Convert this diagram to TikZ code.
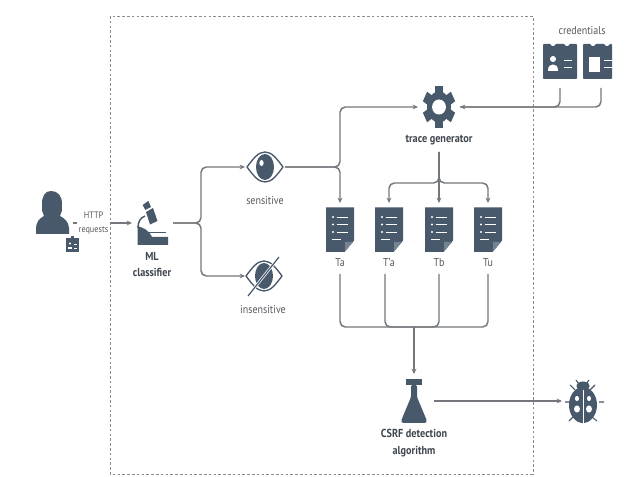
\documentclass[tikz,border=0pt]{standalone}
\usepackage{fontspec}
\setmainfont[FakeStretch=0.88]{PT Sans}
\usetikzlibrary{arrows.meta}
\definecolor{icon}{HTML}{47596B}
\definecolor{wire}{HTML}{74787C}
\definecolor{txt}{HTML}{55595E}
\definecolor{boldtxt}{HTML}{3F464E}
\tikzset{
  x=0.75pt,y=-0.75pt,
  ibox/.style={minimum width=#1,inner sep=0pt,outer sep=0pt,draw=none},
  lab/.style={text=txt,font=\fontsize{8.5}{9}\selectfont,inner sep=0pt,align=center},
  blab/.style={text=boldtxt,font=\fontsize{8.7}{12.5}\selectfont\bfseries,inner sep=0pt,align=center},
  wirel/.style={draw=wire,line width=1.1pt,rounded corners=4pt},
  arr/.style={wirel,-{Stealth[length=4pt,width=3.6pt]}},
  frame/.style={draw=wire!85,line width=0.7pt,dash pattern=on 2pt off 1.6pt},
  wht/.style={draw=white,line width=0.7pt},
}
\newcommand{\docicon}[1]{\begin{scope}[shift={(#1)}]
  \fill[icon] (0,0)--(28,0)--(28,33)--(18.5,44.5)--(0,44.5)--cycle;
  \fill[icon!75!white] (19,34.5)--(27,34.5)--(19,44)--cycle;
  \foreach \yy in {9.5,17,24.5}{\fill[white] (7,\yy) circle[radius=1.1];\draw[wht] (10.5,\yy)--(22,\yy);}
  \draw[wht] (6,31.5)--(14.5,31.5);
\end{scope}}
\newcommand{\eyeicon}[1]{\begin{scope}[shift={(#1)}]
  \draw[icon,line width=1pt,line join=round] (-18,0) .. controls (-12,-8) and (-7,-15) .. (0,-15) .. controls (7,-15) and (12,-8) .. (18,0) .. controls (12,8) and (7,15) .. (0,15) .. controls (-7,15) and (-12,8) .. (-18,0) -- cycle;
  \fill[icon] (0,0) ellipse[x radius=9,y radius=13];
\end{scope}}
\begin{document}
\begin{tikzpicture}
\useasboundingbox (0,0) rectangle (626,477);
\fill[white] (0,0) rectangle (626,477);
\draw[frame] (110,16) rectangle (533,474);

% icon anchors
\node[ibox=28.5pt,minimum height=32pt] (person) at (54,223) {};
\node[ibox=30.75pt,minimum height=33pt] (micro) at (152.5,223) {};
\node[ibox=30pt,minimum height=24pt] (eyea) at (265,167) {};
\node[ibox=30pt,minimum height=24pt] (eyeb) at (265,276) {};
\node[ibox=31.5pt,minimum height=32pt] (gear) at (439,107) {};
\node[ibox=18pt,minimum height=18pt,blab] (tg) at (439,140) {trace generator};
\node[ibox=21pt,minimum height=53.25pt] (ta) at (340,238.5) {};
\node[ibox=21pt,minimum height=53.25pt] (tp) at (389,238.5) {};
\node[ibox=21pt,minimum height=53.25pt] (tb) at (439,238.5) {};
\node[ibox=21pt,minimum height=53.25pt] (tu) at (488,238.5) {};
\node[ibox=30pt,minimum height=40.5pt] (flask) at (414,401) {};
\node[ibox=31.5pt,minimum height=30pt] (bug) at (583,401) {};
\node[ibox=25.5pt,minimum height=33pt] (cara) at (560,66) {};
\node[ibox=16.5pt,minimum height=33pt] (carb) at (601,66) {};
\coordinate (hubm) at (201,223);
\coordinate (hube) at (340,167);
\coordinate (hubt) at (439,183);
\coordinate (hubc) at (414,327);

% labels
\node[lab,ibox=24.75pt,font=\fontsize{7}{10}\selectfont] (http) at (93.5,223) {HTTP\\requests};
\node[blab] (mll) at (152,264.5) {ML\\classifier};
\node[lab] (sl) at (265,201) {sensitive};
\node[lab] (il) at (263,310) {insensitive};
\node[lab] at (340,263) (tal) {Ta};
\node[lab] at (389,263) (tpl) {T'a};
\node[lab] at (439,263) (tbl) {Tb};
\node[lab] at (488,263) (tul) {Tu};
\node[blab] (csrf) at (414,443) {CSRF detection\\algorithm};
\node[lab] (crl) at (582,31) {credentials};

% connectors
\draw[wirel] (person.east) -- (http.west);
\draw[arr] (http.east) -- (micro.west);
\draw[arr] (micro.east) -- (hubm) |- (eyea.west);
\draw[arr] (micro.east) -- (hubm) |- (eyeb.west);
\draw[arr] (eyea.east) -- (hube) |- (gear.west);
\draw[arr] (eyea.east) -- (hube) -- (ta.north);
\draw[arr] (tg.south) -- (hubt) -| (tp.north);
\draw[arr] (tg.south) -- (tb.north);
\draw[arr] (tg.south) -- (hubt) -| (tu.north);
\draw[wirel] (ta.south) |- (hubc);
\draw[wirel] ([xshift=-3pt]tp.south) |- (hubc);
\draw[wirel] (tb.south) |- (hubc);
\draw[wirel] (tu.south) |- (hubc);
\draw[arr] (hubc) -- (flask.north);
\draw[arr] (flask.east) -- (bug.west);
\draw[wirel] (cara.south) |- (gear.east);
\draw[arr] (carb.south) |- (gear.east);

% person
\fill[icon] (51,191) .. controls (45,191) and (42,196) .. (42,204) .. controls (42,210) and (42,213) .. (44,216) .. controls (40,218) and (36,222) .. (36,228) -- (36,234) -- (69,234) -- (69,228) .. controls (69,222) and (64,218) .. (60,216) .. controls (62,213) and (62,210) .. (62,204) .. controls (62,196) and (58,191) .. (51,191) -- cycle;
% badge
\fill[icon] (66,238) rectangle (79,252);
\fill[icon] (71,236) rectangle (74,239);
\fill[white] (70,243.5) circle[radius=1.1];
\fill[white] (68,249) rectangle (72,247);
\draw[white,line width=0.4pt] (74,244)--(77,244) (74,248)--(77,248);

% microscope
\fill[icon] (137.5,226) .. controls (143,228) and (148,229) .. (152,237) -- (168,237) -- (168,245) -- (137.5,245) -- cycle;
\draw[icon,line width=1.1pt] (145,216) .. controls (140,218) and (138,222) .. (138,228);
\draw[icon,line width=0.9pt] (147,232.5)--(166,232.5);
\fill[icon] (146,212)--(153,208)--(157.5,221)--(150,224.5)--cycle;
\fill[icon] (142.7,205)--(148.3,201)--(151,207)--(145.3,210)--cycle;

% eyes
\eyeicon{265,167}
\fill[white] (261.5,163) ellipse[x radius=2.2,y radius=3];
\eyeicon{264,276}
\draw[white,line width=2pt] (248,296)--(279,257);
\draw[icon,line width=0.9pt] (248,296)--(279,257);

% gear
\begin{scope}[shift={(439,107)},xscale=0.77]
  \foreach \a in {0,60,120,180,240,300}{\fill[icon,rotate=\a] (-5.5,-21) rectangle (5.5,-12);}
  \fill[icon] (0,0) circle[radius=15.5];
  \fill[white] (0,0) ellipse[x radius=9,y radius=7.5];
\end{scope}

% documents
\docicon{326,207.5}
\docicon{375,207.5}
\docicon{425,207.5}
\docicon{474,207.5}

% flask
\fill[icon] (406,379) rectangle (422,385);
\fill[icon,rounded corners=1pt] (411,385) -- (411,397) -- (401,421) -- (402,423) -- (426,423) -- (427,421) -- (417,397) -- (417,385) -- cycle;

% bug
\begin{scope}[icon,line width=0.8pt]
  \draw (565,402)--(570,402) (570,385)--(575,390) (569,421)--(573,417) (576,380)--(579,384);
  \draw (599,402)--(604,402) (595,385)--(590,390) (597,421)--(592,417) (589,380)--(586,384);
\end{scope}
\fill[icon] (583,386) ellipse[x radius=6.5,y radius=4.5];
\fill[icon] (583,405) ellipse[x radius=14,y radius=18];
\draw[white,line width=0.6pt] (583,390)--(583,423);
\fill[white] (577,398.5) ellipse[x radius=2,y radius=2.6];
\fill[white] (589,398.5) ellipse[x radius=2,y radius=2.6];
\fill[white] (577,409) ellipse[x radius=3,y radius=3.6];
\fill[white] (589,409) ellipse[x radius=3,y radius=3.6];

% cards
\fill[icon,rounded corners=0.6pt] (543,44) rectangle (577,79);
\fill[icon,rounded corners=0.6pt] (583,44) rectangle (612,79);
\foreach \nx in {553,567,593,607}{\fill[white] (\nx,43) circle[radius=3];}
\fill[white] (553,59) circle[radius=3];
\fill[white] (548,71) .. controls (548,66) and (550,64.5) .. (553,64.5) .. controls (556,64.5) and (558,66) .. (558,71) -- cycle;
\draw[wht] (564,60)--(572,60) (564,67)--(572,67);
\fill[white] (589,57) rectangle (600,72);
\draw[wht] (604,60)--(612,60) (604,67)--(612,67);
\end{tikzpicture}
\end{document}
